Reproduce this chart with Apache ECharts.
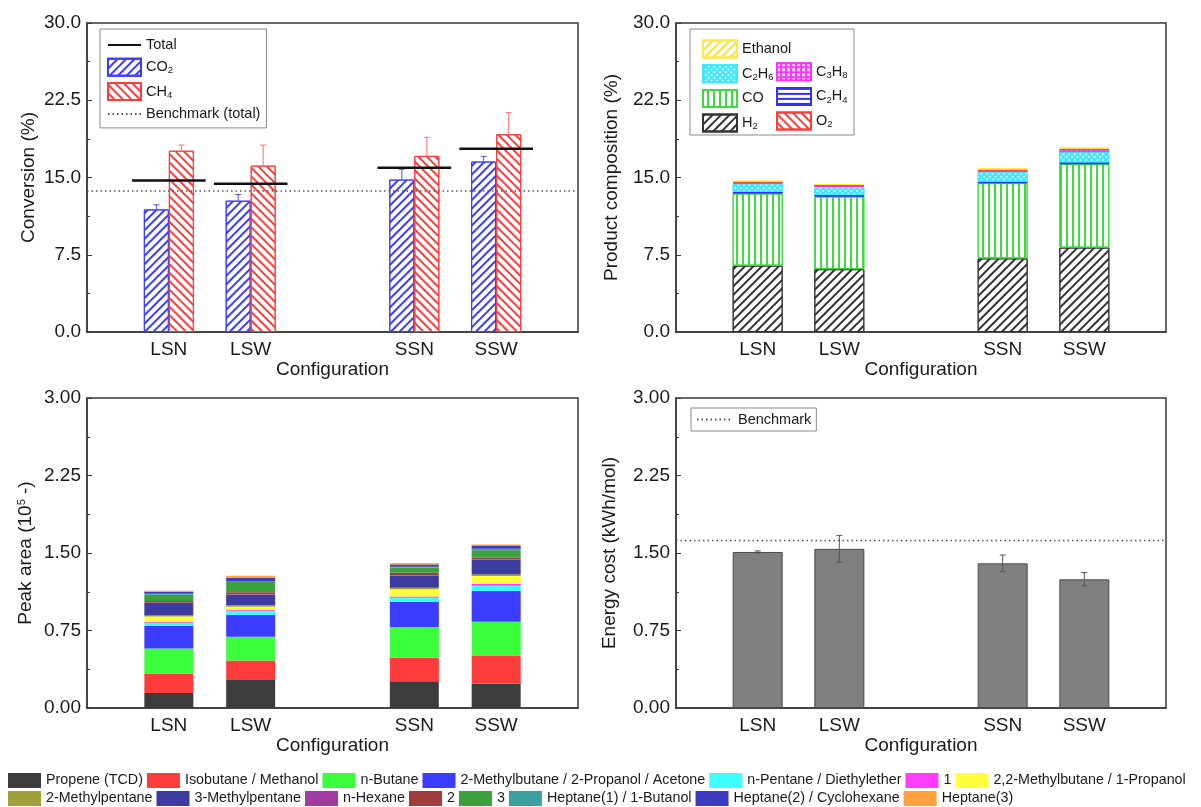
<!DOCTYPE html>
<html><head><meta charset="utf-8">
<script src="https://cdn.jsdelivr.net/npm/echarts@6/dist/echarts.min.js"></script>
<style>html,body{margin:0;padding:0;background:#fff}#c{width:1201px;height:807px}</style>
</head><body><div id="c"></div>
<script>
// ---------- categories ----------
const configurations = ['LSN', 'LSW', 'SSN', 'SSW'];
const configPositions = [1, 2, 4, 5];   // slots on a 0..6 axis (gap between LS* and SS*)

// ---------- Conversion (%) ----------
const co2Conversion = [11.9, 12.75, 14.8, 16.55];
const co2Error = [0.45, 0.6, 1.0, 0.5];
const ch4Conversion = [17.6, 16.15, 17.1, 19.2];
const ch4Error = [0.55, 2.0, 1.8, 2.1];
const totalConversion = [14.7, 14.4, 15.95, 17.8];
const benchmarkConversion = 13.7;

// ---------- Product composition (%) ----------
const h2Comp = [6.45, 6.1, 7.15, 8.2];
const coComp = [7.0, 7.05, 7.3, 8.1];
const c2h4Comp = [0.17, 0.16, 0.15, 0.17];
const c2h6Comp = [0.8, 0.8, 0.95, 1.0];
const c3h8Comp = [0.08, 0.08, 0.15, 0.23];
const o2Comp = [0.1, 0.08, 0.08, 0.08];
const ethanolComp = [0.08, 0.1, 0.1, 0.15];

// ---------- Peak area (10^5) ----------
const peakNames = ['Propene (TCD)', 'Isobutane / Methanol', 'n-Butane', '2-Methylbutane / 2-Propanol / Acetone',
  'n-Pentane / Diethylether', '1', '2,2-Methylbutane / 1-Propanol', '2-Methylpentane', '3-Methylpentane',
  'n-Hexane', '2', '3', 'Heptane(1) / 1-Butanol', 'Heptane(2) / Cyclohexane', 'Heptane(3)'];
const propene = [0.145, 0.27, 0.26, 0.235];
const isobutane = [0.19, 0.19, 0.226, 0.268];
const nButane = [0.24, 0.23, 0.297, 0.332];
const methylbutane = [0.22, 0.21, 0.245, 0.297];
const nPentane = [0.03, 0.04, 0.04, 0.05];
const peak1 = [0.01, 0.01, 0.01, 0.02];
const dimethylbutane = [0.05, 0.03, 0.07, 0.075];
const methylpentane2 = [0.01, 0.015, 0.015, 0.015];
const methylpentane3 = [0.12, 0.10, 0.12, 0.14];
const nHexane = [0.005, 0.005, 0.005, 0.005];
const peak2 = [0.015, 0.02, 0.02, 0.02];
const peak3 = [0.06, 0.10, 0.05, 0.07];
const heptane1 = [0.01, 0.01, 0.01, 0.015];
const heptane2 = [0.02, 0.03, 0.02, 0.025];
const heptane3 = [0.01, 0.02, 0.015, 0.015];
const peakValues = [propene, isobutane, nButane, methylbutane, nPentane, peak1, dimethylbutane,
  methylpentane2, methylpentane3, nHexane, peak2, peak3, heptane1, heptane2, heptane3];
const peakColors = ['#3c3c3c', '#ff3c3c', '#3cff3c', '#3c3cff', '#3cffff', '#ff3cff', '#ffff3c',
  '#a0a03c', '#3c3ca0', '#a03ca0', '#a03c3c', '#3ca03c', '#3ca0a0', '#3c3cc0', '#ffa03c'];

// ---------- Energy cost (kWh/mol) ----------
const energyCost = [1.51, 1.54, 1.40, 1.245];
const energyError = [0.01, 0.13, 0.08, 0.065];
const benchmarkEnergy = 1.62;

// ---------- helpers ----------
const FONT = "Arial, 'Liberation Sans', sans-serif";
const TXT = '#1a1a1a';
const AX = 19;
const axisCategories = Array.from({ length: 7 }, (_, k) => {
  const i = configPositions.indexOf(k); return i >= 0 ? configurations[i] : ' '.repeat(k);
});
const pairsVal = vals => vals.map((v, i) => [configPositions[i], v]);
const pairsCat = vals => vals.map((v, i) => [configurations[i], v]);

function hatch(color, dir, w, gap) {
  return { symbol: 'rect', symbolSize: 1, color: color, dashArrayX: [1, 0],
    dashArrayY: [w || 1.4, gap || 3.6], rotation: dir * Math.PI / 4 };
}

const grids = [
  { left: 87, width: 491, top: 23, height: 309 },
  { left: 676, width: 490, top: 23, height: 309 },
  { left: 87, width: 491, top: 398, height: 310 },
  { left: 676, width: 490, top: 398, height: 310 }
].map(g => Object.assign({ show: true, borderColor: '#3a3a3a', borderWidth: 1.5, containLabel: false }, g));

function xAxis(gi, isCat) {
  const ax = {
    gridIndex: gi,
    name: 'Configuration', nameLocation: 'middle', nameGap: 28,
    nameTextStyle: { fontSize: AX, color: TXT, fontFamily: FONT },
    axisLine: { show: true, lineStyle: { color: '#3a3a3a', width: 1.5 } },
    axisTick: { show: false }, splitLine: { show: false },
    axisLabel: { fontSize: AX, color: TXT, fontFamily: FONT, margin: 8, interval: 0 }
  };
  if (isCat) {
    ax.type = 'category'; ax.data = axisCategories; ax.boundaryGap = false;
  } else {
    ax.type = 'value'; ax.min = 0; ax.max = 6; ax.interval = 1;
    ax.axisLabel.formatter = v => { const i = configPositions.indexOf(v); return i >= 0 ? configurations[i] : ''; };
  }
  return ax;
}
function yAxis(gi, max, interval, digits, name, gap) {
  return {
    type: 'value', gridIndex: gi, min: 0, max: max, interval: interval,
    name: name, nameLocation: 'middle', nameGap: gap,
    nameTextStyle: { fontSize: AX, color: TXT, fontFamily: FONT,
      rich: { sup: { fontSize: 11, verticalAlign: 'top', padding: [0, 0, 9, 0], color: TXT, fontFamily: FONT } } },
    axisLine: { show: true, lineStyle: { color: '#3a3a3a', width: 1.5 } },
    axisTick: { show: true, inside: true, length: 5, lineStyle: { color: '#3a3a3a' } },
    minorTick: { show: true, splitNumber: 2, length: 3, lineStyle: { color: '#3a3a3a' } },
    splitLine: { show: false },
    axisLabel: { fontSize: AX, color: TXT, fontFamily: FONT, margin: 6, formatter: v => v.toFixed(digits) }
  };
}

function errorSeries(name, gi, data, offset, color, both, cap) {
  return {
    type: 'custom', name: name, xAxisIndex: gi, yAxisIndex: gi, z: 4, silent: true,
    encode: { x: 0, y: 1 }, data: data,
    renderItem: function (params, api) {
      const x = api.value(0), y = api.value(1), e = api.value(2);
      const top = api.coord([x, y + e]);
      const bot = api.coord([x, both ? y - e : y]);
      const cx = top[0] + offset;
      const st = { stroke: color, lineWidth: 1 };
      const ch = [
        { type: 'line', shape: { x1: cx, y1: top[1], x2: cx, y2: bot[1] }, style: st },
        { type: 'line', shape: { x1: cx - cap, y1: top[1], x2: cx + cap, y2: top[1] }, style: st }
      ];
      if (both) ch.push({ type: 'line', shape: { x1: cx - cap, y1: bot[1], x2: cx + cap, y2: bot[1] }, style: st });
      return { type: 'group', children: ch };
    }
  };
}

const subFormatter = name => name.replace(/(\d)/g, '{sub|$1}');
const legendText = size => ({
  fontSize: size, color: TXT, fontFamily: FONT,
  rich: { sub: { fontSize: 9.5, padding: [7, 0, 0, 0], color: TXT, fontFamily: FONT } }
});
const noSymbol = { color: 'transparent', opacity: 0, borderWidth: 0 };

// ---------- series ----------
const series = [];
// Top-left: conversion (value x-axis so the Total segments can span the bar pair)
series.push({ type: 'bar', name: 'CO2', xAxisIndex: 0, yAxisIndex: 0, barWidth: 25, barGap: '0%',
  data: pairsVal(co2Conversion),
  itemStyle: { color: '#fff', borderColor: '#3c3cff', borderWidth: 1, decal: hatch('#3c3cff', -1) } });
series.push({ type: 'bar', name: 'CH4', xAxisIndex: 0, yAxisIndex: 0, barWidth: 25, barGap: '0%',
  data: pairsVal(ch4Conversion),
  itemStyle: { color: '#fff', borderColor: '#ff3c3c', borderWidth: 1, decal: hatch('#ff3c3c', 1) } });
series.push(errorSeries('CO2 error', 0, co2Conversion.map((v, i) => [configPositions[i], v, co2Error[i]]), -12.5, '#5050ff', false, 3));
series.push(errorSeries('CH4 error', 0, ch4Conversion.map((v, i) => [configPositions[i], v, ch4Error[i]]), 12.5, '#ff7070', false, 3));
const totalData = [];
totalConversion.forEach((v, i) => {
  totalData.push([configPositions[i] - 0.45, v], [configPositions[i] + 0.45, v], [configPositions[i] + 0.5, '-']);
});
series.push({ type: 'line', name: 'Total', xAxisIndex: 0, yAxisIndex: 0, data: totalData, symbol: 'none',
  connectNulls: false, z: 5, lineStyle: { color: '#111', width: 2.5 }, itemStyle: { color: '#111' } });
series.push({ type: 'line', name: 'Benchmark (total)', xAxisIndex: 0, yAxisIndex: 0, symbol: 'none', z: 3,
  data: [[0, benchmarkConversion], [6, benchmarkConversion]],
  lineStyle: { color: '#555', width: 1.5, type: [1.5, 3] }, itemStyle: { color: '#555' } });

// Top-right: composition (stacked)
const compDefs = [
  ['H2', h2Comp, { color: '#fff', borderColor: '#333', borderWidth: 1, decal: hatch('#333', -1) }],
  ['CO', coComp, { color: '#fff', borderColor: '#3cdc3c', borderWidth: 1,
    decal: { symbol: 'rect', symbolSize: 1, color: '#3cdc3c', dashArrayX: [1, 0], dashArrayY: [1.3, 3.2], rotation: Math.PI / 2 } }],
  ['C2H4', c2h4Comp, { color: '#fff', borderColor: '#3030ff', borderWidth: 1,
    decal: { symbol: 'rect', symbolSize: 1, color: '#3030ff', dashArrayX: [1, 0], dashArrayY: [1.3, 2.5], rotation: 0 } }],
  ['C2H6', c2h6Comp, { color: '#3ce6ff', borderColor: '#3ce6ff', borderWidth: 1,
    decal: { symbol: 'rect', symbolSize: 1, color: 'rgba(255,255,255,0.85)', dashArrayX: [2, 2], dashArrayY: [2, 2], rotation: Math.PI / 4 } }],
  ['C3H8', c3h8Comp, { color: '#ff30ff', borderColor: '#ff30ff', borderWidth: 1,
    decal: { symbol: 'rect', symbolSize: 1, color: 'rgba(255,255,255,0.9)', dashArrayX: [2.5, 1.2], dashArrayY: [2.5, 1.2], rotation: 0 } }],
  ['O2', o2Comp, { color: '#fff', borderColor: '#ff3c3c', borderWidth: 1, decal: hatch('#ff3c3c', 1) }],
  ['Ethanol', ethanolComp, { color: '#fff', borderColor: '#ffe84a', borderWidth: 1, decal: hatch('#ffe030', -1) }]
];
compDefs.forEach(d => series.push({ type: 'bar', name: d[0], xAxisIndex: 1, yAxisIndex: 1, stack: 'comp',
  barWidth: 50, data: pairsCat(d[1]), itemStyle: d[2] }));

// Bottom-left: peak areas (stacked)
peakNames.forEach((n, k) => series.push({ type: 'bar', name: n, xAxisIndex: 2, yAxisIndex: 2, stack: 'peak',
  barWidth: 49, data: pairsCat(peakValues[k]), itemStyle: { color: peakColors[k] } }));

// Bottom-right: energy cost
series.push({ type: 'bar', name: 'Energy cost', xAxisIndex: 3, yAxisIndex: 3, barWidth: 50, data: pairsCat(energyCost),
  itemStyle: { color: '#808080', borderColor: '#4a4a4a', borderWidth: 1 } });
series.push(errorSeries('Energy error', 3, energyCost.map((v, i) => [configurations[i], v, energyError[i]]), 0, '#555', true, 3));
series.push({ type: 'line', name: 'Benchmark', xAxisIndex: 3, yAxisIndex: 3, symbol: 'none', z: 3,
  data: axisCategories.map(c => [c, benchmarkEnergy]),
  lineStyle: { color: '#555', width: 1.5, type: [1.5, 3] }, itemStyle: { color: '#555' } });

// ---------- legends ----------
const legends = [
  { left: 100, top: 29, orient: 'vertical', padding: [8.5, 6, 6.5, 7], borderColor: '#8a8a8a', borderWidth: 1,
    itemWidth: 33, itemHeight: 17, itemGap: 5.3, formatter: subFormatter, textStyle: legendText(14.5),
    data: [{ name: 'Total', itemStyle: noSymbol }, { name: 'CO2', icon: 'rect' }, { name: 'CH4', icon: 'rect' },
      { name: 'Benchmark (total)', itemStyle: noSymbol }] },
  { left: 702, top: 39.5, orient: 'vertical', padding: 0, itemWidth: 34, itemHeight: 17, itemGap: 5.7,
    formatter: subFormatter, textStyle: legendText(14.5),
    data: ['Ethanol', 'C2H6', 'CO', 'H2'].map(n => ({ name: n, icon: 'rect' })) },
  { left: 776, top: 62.2, orient: 'vertical', padding: 0, itemWidth: 34, itemHeight: 17, itemGap: 5.7,
    formatter: subFormatter, textStyle: legendText(14.5),
    data: ['C3H8', 'C2H4', 'O2'].map(n => ({ name: n, icon: 'rect' })) },
  { left: 691, top: 408, orient: 'vertical', padding: [4, 5, 4, 5], borderColor: '#8a8a8a', borderWidth: 1,
    itemWidth: 36, itemHeight: 16, textStyle: legendText(14.5), data: [{ name: 'Benchmark', itemStyle: noSymbol }] },
  { left: 8, top: 773, orient: 'horizontal', padding: 0, itemWidth: 33, itemHeight: 15, itemGap: 4,
    textStyle: { fontSize: 14.3, color: TXT, fontFamily: FONT },
    data: peakNames.slice(0, 7).map(n => ({ name: n, icon: 'rect' })) },
  { left: 8, top: 791, orient: 'horizontal', padding: 0, itemWidth: 33, itemHeight: 15, itemGap: 4,
    textStyle: { fontSize: 14.3, color: TXT, fontFamily: FONT },
    data: peakNames.slice(7).map(n => ({ name: n, icon: 'rect' })) }
].map(l => Object.assign({ selectedMode: false, backgroundColor: 'transparent' }, l));

const option = {
  animation: false,
  backgroundColor: '#fff',
  textStyle: { fontFamily: FONT },
  grid: grids,
  xAxis: [xAxis(0, false), xAxis(1, true), xAxis(2, true), xAxis(3, true)],
  yAxis: [
    yAxis(0, 30, 7.5, 1, 'Conversion (%)', 49),
    yAxis(1, 30, 7.5, 1, 'Product composition (%)', 55),
    yAxis(2, 3, 0.75, 2, 'Peak area (10{sup|5} -)', 51),
    yAxis(3, 3, 0.75, 2, 'Energy cost (kWh/mol)', 57)
  ],
  legend: legends,
  graphic: [{ type: 'rect', shape: { x: 690, y: 29, width: 164, height: 106 },
    style: { fill: 'none', stroke: '#8a8a8a', lineWidth: 1 }, silent: true }],
  series: series
};
const chart = echarts.init(document.getElementById('c'), null, { renderer: 'canvas' });
chart.setOption(option);
</script></body></html>
